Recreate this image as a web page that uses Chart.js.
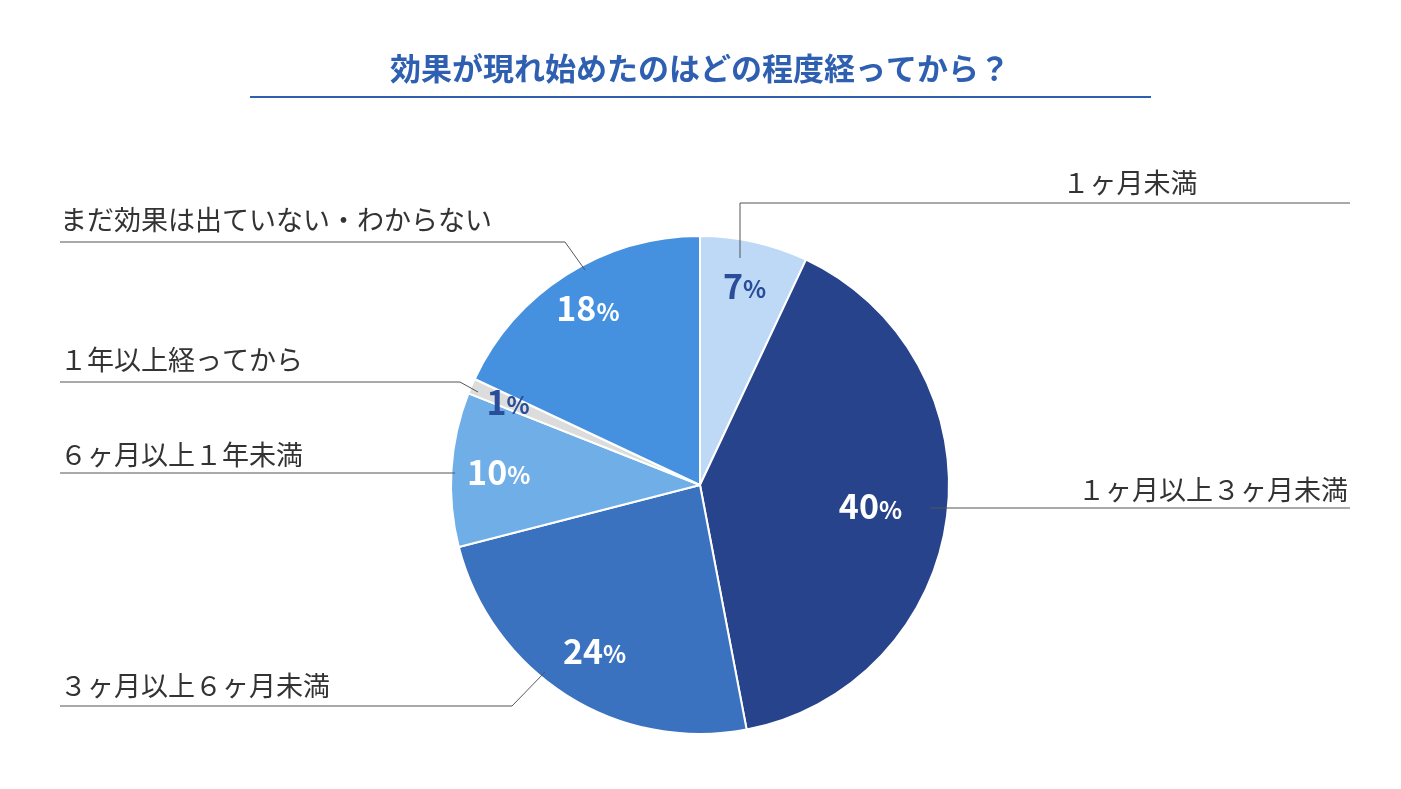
<!DOCTYPE html>
<html>
<head>
<meta charset="utf-8">
<script src="https://cdn.jsdelivr.net/npm/chart.js@4/dist/chart.umd.min.js"></script>
<style>
  body { margin: 0; background: #fff; }
  canvas { display: block; }
</style>
</head>
<body>
<canvas id="pie" width="1401" height="789"></canvas>
<script>
const titleText = '効果が現れ始めたのはどの程度経ってから？';
const categories = ['１ヶ月未満', '１ヶ月以上３ヶ月未満', '３ヶ月以上６ヶ月未満', '６ヶ月以上１年未満', '１年以上経ってから', 'まだ効果は出ていない・わからない'];
const shares = [7, 40, 24, 10, 1, 18];
const colors = ['#bdd9f5', '#27438b', '#3b72c0', '#70aee8', '#dcdcdc', '#4591df'];
const valueColors = ['#2a4d9a', '#ffffff', '#ffffff', '#ffffff', '#2a4d9a', '#ffffff'];

// label layout: text pos, leader line points
const labelLayout = [
  { tx: 1130, ty: 183, align: 'center', line: [[740, 258], [740, 203], [1350, 203]] },
  { tx: 1348, ty: 490, align: 'right', line: [[930, 508], [1350, 508]] },
  { tx: 60, ty: 686, align: 'left', line: [[545, 672], [512, 706], [60, 706]] },
  { tx: 60, ty: 455, align: 'left', line: [[455, 473], [60, 473]] },
  { tx: 60, ty: 360, align: 'left', line: [[478, 392], [460, 382], [60, 382]] },
  { tx: 60, ty: 220, align: 'left', line: [[585, 270], [565, 242], [60, 242]] }
];
const valueRadius = [0.82, 0.69, 0.79, 0.81, 0.84, 0.84];

const decor = {
  id: 'decor',
  afterDraw(chart) {
    const ctx = chart.ctx;
    ctx.save();
    // title
    ctx.fillStyle = '#2f5fb0';
    ctx.font = 'bold 31px "Noto Sans CJK JP"';
    ctx.textAlign = 'center';
    ctx.textBaseline = 'middle';
    ctx.fillText(titleText, 700, 68);
    ctx.strokeStyle = '#2f5fb0';
    ctx.lineWidth = 2;
    ctx.beginPath(); ctx.moveTo(250, 97); ctx.lineTo(1151, 97); ctx.stroke();

    // leaders + category labels
    ctx.strokeStyle = '#555';
    ctx.lineWidth = 1;
    ctx.fillStyle = '#333';
    ctx.font = '27px "Noto Sans CJK JP"';
    labelLayout.forEach((l, i) => {
      ctx.beginPath();
      l.line.forEach((p, j) => j ? ctx.lineTo(p[0], p[1]) : ctx.moveTo(p[0], p[1]));
      ctx.stroke();
      ctx.textAlign = l.align;
      ctx.fillText(categories[i], l.tx, l.ty);
    });

    // values
    const meta = chart.getDatasetMeta(0);
    ctx.textAlign = 'center';
    meta.data.forEach((arc, i) => {
      const mid = (arc.startAngle + arc.endAngle) / 2;
      const r = arc.outerRadius * valueRadius[i];
      const x = arc.x + Math.cos(mid) * r;
      const y = arc.y + Math.sin(mid) * r;
      ctx.fillStyle = valueColors[i];
      ctx.font = 'bold 34px "Noto Sans CJK JP"';
      const num = String(shares[i]);
      const wNum = ctx.measureText(num).width;
      ctx.font = 'bold 24px "Noto Sans CJK JP"';
      const wPct = ctx.measureText('%').width;
      const x0 = x - (wNum + wPct) / 2;
      ctx.textAlign = 'left';
      ctx.font = 'bold 34px "Noto Sans CJK JP"';
      ctx.fillText(num, x0, y);
      ctx.font = 'bold 24px "Noto Sans CJK JP"';
      ctx.fillText('%', x0 + wNum, y + 3);
    });
    ctx.restore();
  }
};

new Chart(document.getElementById('pie'), {
  type: 'pie',
  data: {
    labels: categories,
    datasets: [{
      data: shares,
      backgroundColor: colors,
      borderColor: '#ffffff',
      borderWidth: 2
    }]
  },
  options: {
    responsive: false,
    animation: false,
    devicePixelRatio: 1,
    layout: { padding: { top: 235, bottom: 54, left: 450, right: 451 } },
    plugins: { legend: { display: false }, tooltip: { enabled: false } }
  },
  plugins: [decor]
});
</script>
</body>
</html>
